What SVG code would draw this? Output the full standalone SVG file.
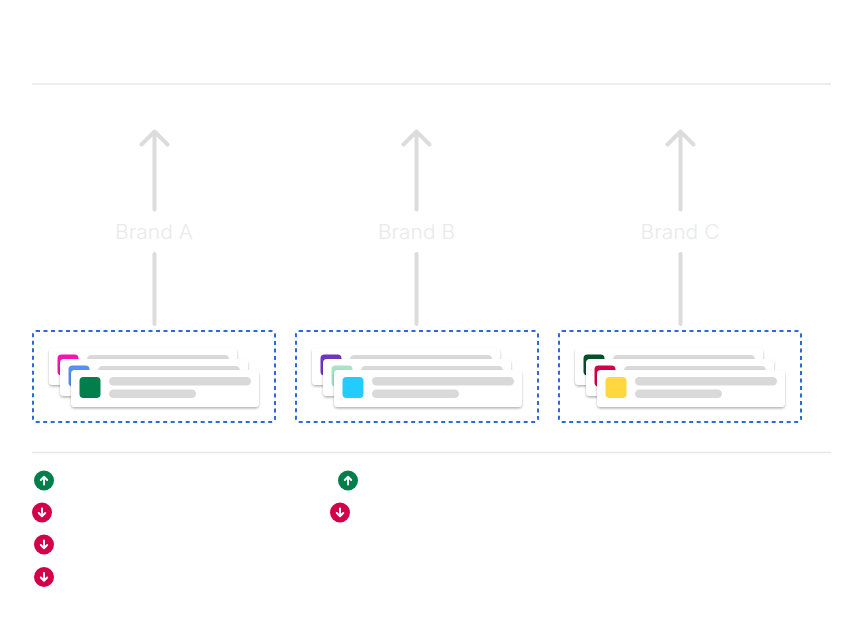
<svg xmlns="http://www.w3.org/2000/svg" width="863" height="621" viewBox="0 0 863 621">
<defs>
<filter id="sh" x="-10%" y="-20%" width="120%" height="150%"><feDropShadow dx="0" dy="1.500" stdDeviation="1" flood-color="#000" flood-opacity="0.3"/></filter>
<g id="card"><rect x="0" y="0" width="188" height="37" rx="4" fill="#fff" filter="url(#sh)"/><rect x="38" y="7" width="142" height="8.500" rx="4.250" fill="#d9d9d9"/><rect x="38" y="19.500" width="87" height="8.500" rx="4.250" fill="#d9d9d9"/></g>
<g id="up"><circle r="10" fill="#007e4c"/><path d="M0 4V-3.500M-3.200 -0.500L0 -3.700L3.200 -0.500" fill="none" stroke="#fff" stroke-width="2" stroke-linecap="round" stroke-linejoin="round"/></g>
<g id="down"><circle r="10" fill="#d30049"/><path d="M0 -4V3.500M-3.200 0.500L0 3.700L3.200 0.500" fill="none" stroke="#fff" stroke-width="2" stroke-linecap="round" stroke-linejoin="round"/></g>
</defs>
<style>
.ln{stroke:#e6e6e6;stroke-width:1.300;fill:none}
.ar{stroke:#dcdcdc;stroke-width:4;fill:none;stroke-linecap:round;stroke-linejoin:round}
.panel{fill:#fff;stroke:#2e69db;stroke-width:2;stroke-dasharray:4 3.500}
.lb{font-family:"Inter","Liberation Sans",sans-serif;font-size:19.500px;font-weight:300;fill:#eaeaea;text-anchor:middle}
</style>
<rect width="863" height="621" fill="#fff"/>
<g id="rules"><path class="ln" d="M32 84H831M32 452.500H831"/></g>
<g id="connectors">
<path class="ar" d="M154.500 209.500V132M141.500 144.500L154.500 131.500L167.500 144.500M154.500 254V324"/>
<path class="ar" d="M416.500 209.500V132M403.500 144.500L416.500 131.500L429.500 144.500M416.500 254V324"/>
<path class="ar" d="M680.500 209.500V132M667.500 144.500L680.500 131.500L693.500 144.500M680.500 254V324"/>
</g>
<g id="label-a"><text class="lb" x="154" y="239" textLength="78" lengthAdjust="spacingAndGlyphs">Brand A</text></g>
<g id="label-b"><text class="lb" x="416.500" y="239" textLength="77" lengthAdjust="spacingAndGlyphs">Brand B</text></g>
<g id="label-c"><text class="lb" x="680" y="239" textLength="79" lengthAdjust="spacingAndGlyphs">Brand C</text></g>
<g id="node-a">
<rect class="panel" x="33" y="331" width="242" height="91" rx="3"/>
<use href="#card" x="49" y="348"/><rect x="57.500" y="354.500" width="21" height="21" rx="4" fill="#f414b4"/>
<use href="#card" x="60" y="359"/><rect x="68.500" y="365.500" width="21" height="21" rx="4" fill="#5590f5"/>
<use href="#card" x="71" y="370"/><rect x="79.500" y="377" width="21" height="21" rx="4" fill="#007e4c"/>
</g>
<g id="node-b">
<rect class="panel" x="296" y="331" width="242" height="91" rx="3"/>
<use href="#card" x="312" y="348"/><rect x="320.500" y="354.500" width="21" height="21" rx="4" fill="#6f35bd"/>
<use href="#card" x="323" y="359"/><rect x="331.500" y="365.500" width="21" height="21" rx="4" fill="#a6e3c8"/>
<use href="#card" x="334" y="370"/><rect x="342.500" y="377" width="21" height="21" rx="4" fill="#22ccff"/>
</g>
<g id="node-c">
<rect class="panel" x="559" y="331" width="242" height="91" rx="3"/>
<use href="#card" x="575" y="348"/><rect x="583.500" y="354.500" width="21" height="21" rx="4" fill="#00512a"/>
<use href="#card" x="586" y="359"/><rect x="594.500" y="365.500" width="21" height="21" rx="4" fill="#d30049"/>
<use href="#card" x="597" y="370"/><rect x="605.500" y="377" width="21" height="21" rx="4" fill="#ffd83f"/>
</g>
<g id="legend">
<use href="#up" x="44" y="480.500"/>
<use href="#down" x="42" y="512.500"/>
<use href="#down" x="44" y="544.500"/>
<use href="#down" x="44" y="577"/>
<use href="#up" x="348" y="480.500"/>
<use href="#down" x="340" y="512.500"/>
</g>
</svg>
